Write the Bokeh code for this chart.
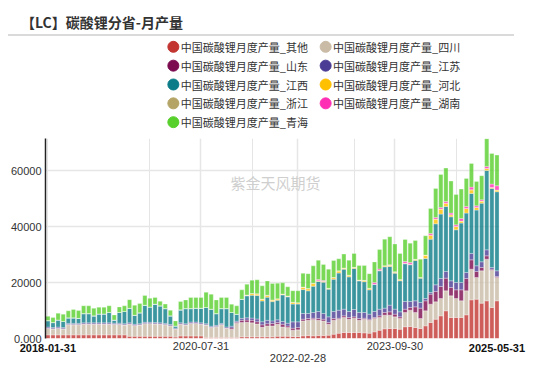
import pandas as pd
from bokeh.plotting import figure
from bokeh.models import ColumnDataSource, Range1d, FixedTicker, LinearAxis, Grid, Div
from bokeh.layouts import column
from bokeh.embed import file_html
from bokeh.resources import INLINE
from bokeh.core.properties import value

# ---------------- data ----------------
dates = pd.date_range("2018-01-31", periods=89, freq="ME")
x_tick_idx = [0, 30, 49, 68, 88]
y_ticks = [0, 20000, 40000, 60000]
y_tick_labels = ["0.000", "20000", "40000", "60000"]

provinces = ["其他", "四川", "山东", "江苏", "江西", "河北", "浙江", "湖南", "青海"]

qita = [1300, 1300, 1300, 1300, 1300, 1300, 1300, 1300, 1300, 1300,
        1300, 1300, 1300, 1300, 1300, 1300, 800, 800, 800, 800,
        800, 800, 800, 800, 800, 500, 900, 900, 900, 900,
        900, 400, 400, 400, 400, 400, 400, 400, 600, 600,
        600, 600, 600, 600, 600, 800, 800, 800, 700, 700,
        940, 1060, 950, 1060, 1060, 1180, 1540, 1900, 2140, 2140,
        2140, 2140, 2020, 1900, 2380, 2960, 3460, 3580, 3580, 3340,
        4200, 4300, 3940, 3580, 4530, 5730, 6920, 8110, 9900, 7520,
        7520, 7520, 8470, 13840, 14080, 12650, 13480, 11100, 13480]
sichuan = [2300, 2100, 2300, 2100, 3600, 3600, 3600, 3800, 3800, 3800,
           3800, 3800, 3800, 3700, 3700, 3500, 4300, 3800, 4000, 4500,
           4500, 4400, 4300, 4100, 3700, 2800, 4200, 3900, 4500, 4500,
           4200, 4400, 3500, 3800, 4500, 3250, 2900, 5100, 5100, 5200,
           5000, 4600, 3400, 3900, 3900, 4300, 3350, 3100, 2270, 2400,
           5360, 5490, 5840, 5490, 5240, 3920, 5010, 5010, 5360, 4770,
           5130, 4410, 4890, 4650, 4780, 4550, 4890, 4770, 4170, 3820,
           5100, 5840, 5360, 3580, 5370, 6560, 6200, 6210, 7160, 7750,
           6780, 5980, 8590, 10970, 7750, 11570, 14910, 13360, 8350]
shandong = [100, 100, 100, 100, 100, 100, 100, 100, 100, 100,
            100, 100, 100, 100, 100, 100, 100, 100, 100, 100,
            100, 100, 100, 100, 100, 100, 100, 100, 100, 100,
            100, 100, 100, 100, 100, 100, 500, 300, 800, 800,
            900, 800, 900, 800, 850, 600, 950, 600, 710, 820,
            600, 600, 480, 600, 600, 600, 600, 360, 600, 600,
            480, 600, 360, 350, 350, 590, 950, 1190, 960, 590,
            1200, 960, 2030, 3700, 3580, 3580, 3700, 4290, 4530, 2980,
            3120, 3920, 4410, 3340, 2150, 1190, 1190, 350, 360]
jiangsu = [400, 400, 400, 400, 400, 400, 400, 400, 400, 400,
           400, 400, 400, 400, 400, 400, 400, 400, 400, 400,
           400, 400, 400, 400, 400, 300, 400, 400, 400, 400,
           400, 400, 400, 400, 400, 400, 600, 400, 700, 800,
           800, 1000, 1100, 1200, 950, 970, 970, 970, 2270, 2030,
           2030, 1780, 2030, 2500, 2030, 2040, 2500, 2860, 2390, 2140,
           2620, 2150, 2030, 1800, 2140, 2390, 1560, 2390, 1790, 1790,
           2740, 2140, 2150, 2020, 840, 590, 2390, 2860, 2390, 2390,
           2620, 2620, 2150, 2270, 2030, 2030, 2150, 600, 2030]
jiangxi = [2300, 1800, 2550, 2200, 2000, 2000, 1800, 3300, 3300, 2500,
           3200, 3200, 3700, 1100, 3800, 4400, 5200, 3200, 3900, 6100,
           5500, 6600, 6100, 5300, 3100, 800, 4650, 5400, 4800, 4950,
           5250, 5800, 6100, 4200, 5300, 6550, 4900, 2500, 6850, 7850,
           8200, 8400, 7400, 8300, 6900, 7030, 9530, 9430, 6350, 6350,
           8570, 8120, 9400, 10750, 11220, 9910, 11550, 13270, 14310, 12400,
           14680, 11300, 11000, 8700, 9750, 13710, 14790, 13840, 12880, 11100,
           13480, 13130, 14440, 8710, 14310, 19090, 21830, 23030, 23260, 22900,
           18850, 21240, 21240, 21480, 19920, 20990, 28400, 28280, 28280]
hebei = [0, 0, 0, 0, 0, 0, 0, 0, 0, 0,
         0, 0, 0, 0, 0, 0, 0, 0, 0, 0,
         0, 0, 0, 0, 0, 0, 0, 0, 0, 0,
         0, 0, 0, 0, 0, 0, 0, 0, 0, 300,
         600, 600, 700, 700, 600, 500, 300, 300, 700, 500,
         900, 800, 1100, 300, 300, 300, 600, 800, 400, 600,
         400, 300, 500, 600, 0, 200, 400, 400, 300, 300,
         200, 200, 400, 200, 1200, 1430, 1670, 1790, 1190, 720,
         1190, 720, 1670, 1310, 950, 720, 720, 360, 600]
zhejiang = [0, 0, 0, 0, 0, 0, 0, 0, 0, 0,
            0, 0, 0, 0, 0, 0, 0, 0, 0, 0,
            0, 0, 0, 0, 0, 0, 0, 0, 0, 0,
            0, 0, 0, 0, 0, 0, 0, 0, 0, 0,
            0, 0, 0, 0, 0, 0, 0, 0, 0, 0,
            0, 0, 0, 0, 0, 0, 0, 0, 0, 0,
            0, 0, 0, 0, 0, 0, 0, 200, 200, 200,
            0, 0, 0, 0, 0, 0, 0, 0, 0, 0,
            0, 0, 0, 0, 0, 0, 0, 0, 0]
hunan = [0, 0, 0, 0, 0, 0, 0, 0, 0, 0,
         0, 0, 0, 0, 0, 0, 0, 0, 0, 0,
         0, 0, 0, 0, 0, 0, 0, 0, 0, 0,
         0, 0, 0, 0, 0, 0, 0, 0, 0, 0,
         0, 0, 0, 0, 0, 0, 0, 0, 0, 0,
         0, 0, 0, 400, 300, 0, 0, 0, 0, 0,
         0, 0, 0, 0, 600, 500, 0, 0, 0, 0,
         600, 600, 0, 0, 0, 600, 600, 600, 600, 600,
         600, 950, 720, 950, 600, 480, 720, 1190, 1550]
qinghai = [1560, 1800, 2400, 2600, 2500, 3000, 2800, 2800, 2800, 2700,
           2400, 2400, 2400, 1850, 2000, 2000, 3100, 3600, 3300, 3500,
           3100, 2400, 1600, 1600, 2000, 1800, 2950, 3100, 3950, 3800,
           3800, 5460, 5340, 4900, 3950, 3950, 2970, 2980, 3350, 3880,
           4780, 5000, 4750, 5100, 5870, 5600, 4000, 3300, 4100, 4300,
           4900, 5350, 6200, 6900, 5750, 6850, 6100, 4300, 5000, 5350,
           4950, 5200, 5300, 5200, 7400, 6900, 9500, 10030, 9920, 9280,
           7910, 6950, 6750, 6600, 6910, 8950, 10380, 11810, 11930, 11450,
           10860, 10500, 10010, 8470, 8710, 8590, 9890, 10970, 10960]

series = [qita, sichuan, shandong, jiangsu, jiangxi, hebei, zhejiang, hunan, qinghai]
keys = ["s%d" % i for i in range(len(series))]
colors = ["#c23531", "#c9bba6", "#7b0a4f", "#4a3b94", "#0b7c88",
          "#ffc000", "#b4a466", "#ff2fb5", "#58d02c"]
for s in series:
    assert len(s) == len(dates)

data = {"x": list(range(len(dates)))}
for k, s in zip(keys, series):
    data[k] = s
src = ColumnDataSource(data)

# ---------------- layout constants ----------------
W = 534
H_TITLE = 31
H_HEAD = 94
H_MAIN = 236
BL, BR = 35, 42          # main plot borders (frames are aligned in a column)
FONT_CJK = "Noto Sans CJK SC"
FONT_LAT = "Liberation Sans"

# ---------------- title + rule ----------------
title = Div(text=('<div style="width:506px;height:29px;margin-left:1px;'
                  'border-bottom:2px solid #dadada;font-family:\'Noto Sans CJK SC\';'
                  'font-weight:bold;font-size:14px;color:#333;line-height:30px;'
                  'padding-left:13px;box-sizing:border-box;white-space:nowrap;">'
                  '【LC】碳酸锂分省-月产量</div>'),
            width=W, height=H_TITLE, margin=0)

# ---------------- legend panel ----------------
head = figure(width=W, height=H_HEAD, x_range=Range1d(BL, W - BR), y_range=Range1d(H_HEAD, 0),
              output_backend="svg", toolbar_location=None,
              min_border_left=BL, min_border_right=BR, min_border_top=0, min_border_bottom=0,
              x_axis_location=None, y_axis_location=None)
head.grid.visible = False
head.outline_line_color = None

leg_x, leg_y, leg_t = [], [], []
for i, name in enumerate(provinces):
    leg_x.append(163.7 + (i % 2) * 153.3)
    leg_y.append(8.3 + (i // 2) * 18.85)
    leg_t.append("中国碳酸锂月度产量_" + name)
head.scatter(x=leg_x, y=leg_y, size=11, color=colors, marker="circle")
head.text(x=[v + 7.5 for v in leg_x], y=leg_y, text=leg_t, text_font=value(FONT_CJK),
          text_font_size="11px", text_baseline="middle", text_color="#333333")

# ---------------- main chart ----------------
x0, x1 = -0.47, 88.5
y1 = 71550
p = figure(width=W, height=H_MAIN, x_range=Range1d(x0, x1), y_range=Range1d(0, y1),
           output_backend="svg", toolbar_location=None,
           min_border_left=BL, min_border_right=BR, min_border_top=6, min_border_bottom=30,
           x_axis_location=None)
p.outline_line_color = None

p.ygrid.grid_line_color = "#e6e6e6"
p.ygrid.grid_line_width = 1.5
p.add_layout(Grid(dimension=0, ticker=FixedTicker(ticks=x_tick_idx[1:4]),
                  grid_line_color="#e6e6e6", grid_line_width=1.5))

p.yaxis.ticker = FixedTicker(ticks=y_ticks)
p.yaxis.major_label_overrides = dict(zip(y_ticks, y_tick_labels))
p.yaxis.axis_line_color = "#222222"
p.yaxis.axis_line_width = 1.5
p.yaxis.major_tick_line_color = None
p.yaxis.minor_tick_line_color = None
p.yaxis.major_tick_out = 0
p.yaxis.major_label_standoff = 4
p.yaxis.major_label_text_font = FONT_LAT
p.yaxis.major_label_text_font_size = "11px"
p.yaxis.major_label_text_color = "#333333"

lab = {i: dates[i].strftime("%Y-%m-%d") for i in x_tick_idx}


def date_axis(ticks, standoff, bold=False):
    return LinearAxis(ticker=FixedTicker(ticks=ticks),
                      major_label_overrides={t: lab[t] for t in ticks},
                      axis_line_color=None, major_tick_line_color=None,
                      minor_tick_line_color=None, major_tick_out=0, major_tick_in=0,
                      major_label_standoff=standoff, major_label_text_font=FONT_LAT,
                      major_label_text_font_style="bold" if bold else "normal",
                      major_label_text_font_size="11px",
                      major_label_text_color="#111111" if bold else "#333333")


p.add_layout(date_axis([x_tick_idx[0], x_tick_idx[4]], 5, bold=True), "below")
p.add_layout(date_axis([x_tick_idx[1], x_tick_idx[3]], -13), "below")
p.add_layout(date_axis([x_tick_idx[2]], -1), "below")

p.text(x=[(x0 + x1) / 2 + 0.6], y=[y1 * 0.781], text=["紫金天风期货"], text_font=value(FONT_CJK),
       text_font_size="15px", text_color="#cfcfcf", text_align="center", text_baseline="middle")

p.vbar_stack(keys, x="x", width=0.82, source=src, fill_color=colors, fill_alpha=0.8,
             line_color="white", line_width=0.5, line_alpha=0.6)

layout = column(title, head, p, spacing=0, margin=(7, 0, 0, 7))
open("out.html", "w").write(file_html(layout, INLINE))
